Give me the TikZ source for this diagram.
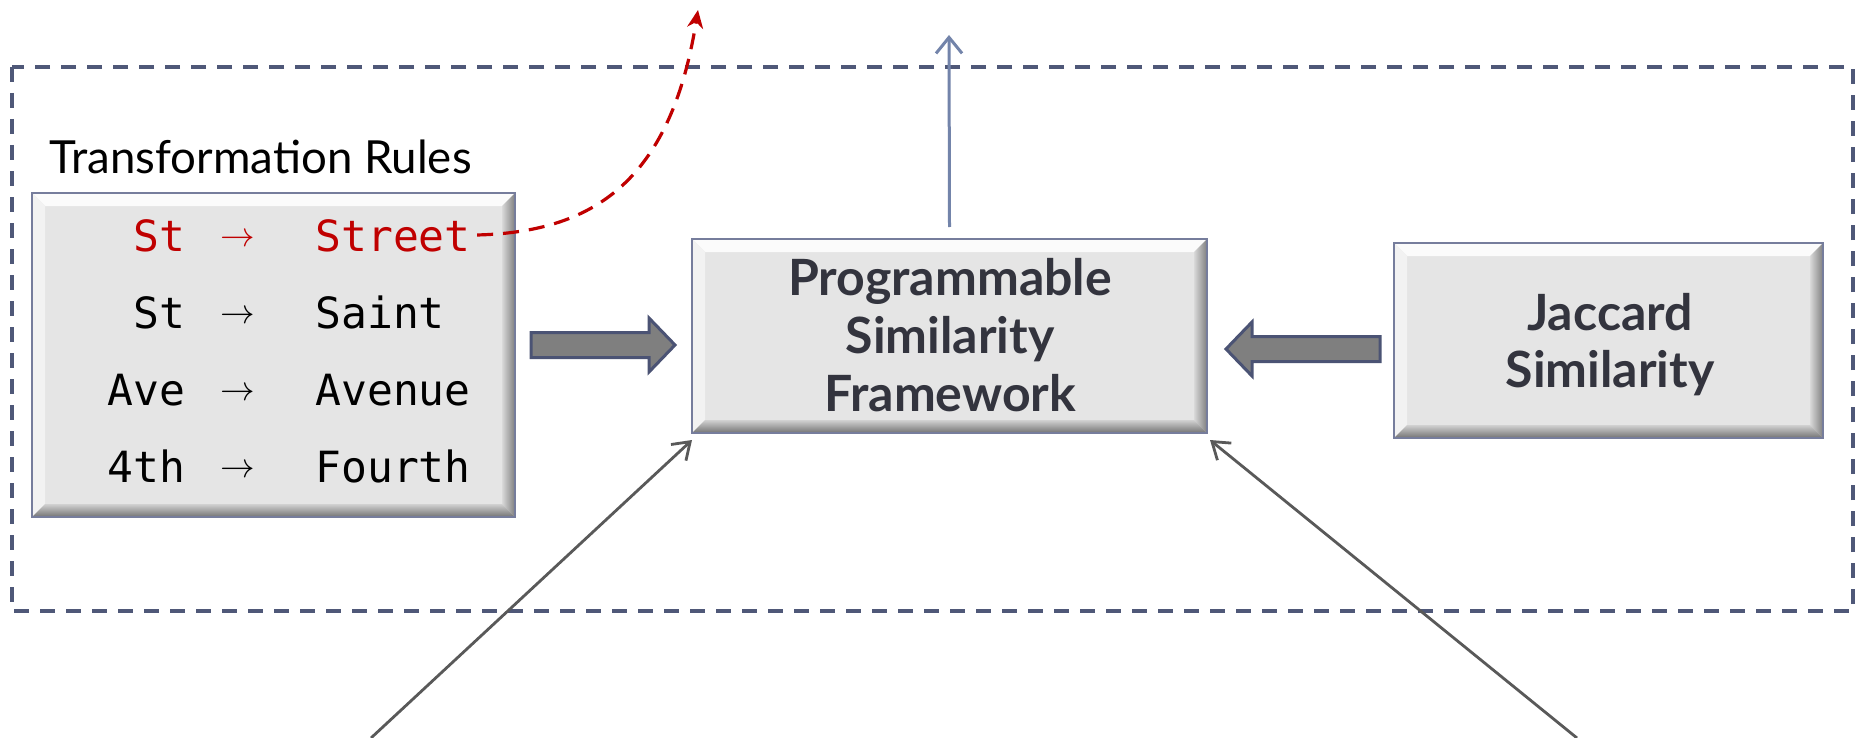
\documentclass[tikz,border=0pt]{standalone}
\usepackage{fontspec}
\setmainfont{Lato}
\newfontfamily\monofont{DejaVu Sans Mono}
\usetikzlibrary{arrows.meta,fit,calc,backgrounds}
\definecolor{boxfill}{HTML}{E5E5E5}
\definecolor{boxline}{HTML}{767D9C}
\definecolor{frameblue}{HTML}{4F5878}
\definecolor{arrowfill}{HTML}{7F7F7F}
\definecolor{arrowline}{HTML}{4B5374}
\definecolor{upblue}{HTML}{7384AA}
\definecolor{linegray}{HTML}{595959}
\definecolor{rulered}{HTML}{C00000}
\definecolor{txtdark}{HTML}{33343E}
\begin{document}
\begin{tikzpicture}[x=0.5pt,y=-0.5pt,
  bevelbox/.style={fill=boxfill, draw=none, inner sep=0pt, outer sep=0pt},
  ruletext/.style={font=\monofont\fontsize{21.5}{24}\selectfont, inner sep=0pt},
  rulearrow/.style={font=\fontsize{18.5}{20}\selectfont, inner sep=0pt, anchor=base},
  boxtext/.style={font=\bfseries\fontsize{25}{29}\selectfont, text=txtdark, inner sep=0pt, anchor=base},
  blockarrow/.style={draw=arrowline, fill=arrowfill, line width=1.5pt, line join=miter},
  framebox/.style={draw=frameblue, line width=1.75pt, dash pattern=on 7.5pt off 5.5pt},
  reddash/.style={draw=rulered, line width=1.6pt, dash pattern=on 8pt off 5pt, -{Stealth[length=9pt,width=8pt]}},
  upline/.style={draw=upblue, line width=1.5pt, -{Straight Barb[length=8pt,width=13pt,line width=1.5pt]}},
  grayline/.style={draw=linegray, line width=1.4pt, -{Straight Barb[length=8pt,width=11pt,line width=1.4pt]}}
]
\useasboundingbox (0,0) rectangle (1858,738);
\fill[white] (0,0) rectangle (1858,738);

% dashed frame
\draw[framebox] (12,67) rectangle (1853,611);

% title
\node[font=\fontsize{22.8}{26}\selectfont, inner sep=0pt, anchor=base west] (title) at (49,173) {Transformation Rules};

% boxes
\node[bevelbox, fit={(32,193)(515,517)}] (rules) {};
\node[bevelbox, fit={(692,239)(1207,433)}] (prog) {};
\node[bevelbox, fit={(1394,243)(1823,438)}] (jac) {};

% shadows
\begin{scope}[on background layer]
\foreach \bx in {rules,prog,jac}{
  \foreach \s in {1,2,3,4,5}{
    \fill[black, opacity=0.06]
      ([xshift=-\s*0.7pt, yshift=-1pt-\s*1.1pt]\bx.south west) rectangle
      ([xshift=\s*0.7pt, yshift=-\s*0.3pt]\bx.north east);
  }
}
\end{scope}

% bevels
\foreach \bx in {rules,prog,jac}{
  \fill[white!97!gray] (\bx.north west) -- (\bx.north east)
     -- ([xshift=-6.5pt,yshift=-6.5pt]\bx.north east) -- ([xshift=6.5pt,yshift=-6.5pt]\bx.north west) -- cycle;
  \fill[white!90!gray] (\bx.north west) -- (\bx.south west)
     -- ([xshift=6.5pt,yshift=6.5pt]\bx.south west) -- ([xshift=6.5pt,yshift=-6.5pt]\bx.north west) -- cycle;
  \shade[left color=black!15, right color=black!50] (\bx.north east) -- (\bx.south east)
     -- ([xshift=-6.5pt,yshift=6.5pt]\bx.south east) -- ([xshift=-6.5pt,yshift=-6.5pt]\bx.north east) -- cycle;
  \shade[top color=black!18, bottom color=black!55] (\bx.south west) -- (\bx.south east)
     -- ([xshift=-6.5pt,yshift=6.5pt]\bx.south east) -- ([xshift=6.5pt,yshift=6.5pt]\bx.south west) -- cycle;
  \draw[boxline, line width=1pt] (\bx.north west) rectangle (\bx.south east);
}

% rules text
\node[ruletext, text=rulered, anchor=base east] (r1l) at (186,251) {St};
\node[rulearrow, text=rulered] (r1a) at (238,246) {$\rightarrow$};
\node[ruletext, text=rulered, anchor=base west] (r1r) at (315,251) {Street};
\node[ruletext, anchor=base east] (r2l) at (186,328) {St};
\node[rulearrow] (r2a) at (238,323) {$\rightarrow$};
\node[ruletext, anchor=base west] (r2r) at (315,328) {Saint};
\node[ruletext, anchor=base east] (r3l) at (186,405) {Ave};
\node[rulearrow] (r3a) at (238,400) {$\rightarrow$};
\node[ruletext, anchor=base west] (r3r) at (315,405) {Avenue};
\node[ruletext, anchor=base east] (r4l) at (186,482) {4th};
\node[rulearrow] (r4a) at (238,477) {$\rightarrow$};
\node[ruletext, anchor=base west] (r4r) at (315,482) {Fourth};

% box texts
\node[boxtext] (p1) at (950,295) {Programmable};
\node[boxtext] (p2) at (950,353) {Similarity};
\node[boxtext] (p3) at (950,411) {Framework};
\node[boxtext] (j1) at (1610,330) {Jaccard};
\node[boxtext] (j2) at (1610,387) {Similarity};

% block arrows (rules -> prog, jac -> prog)
\coordinate (ba1) at (531,345);
\draw[blockarrow] (ba1) ++(0,-12.5) -- ++(118,0) -- ++(0,-14.5) -- ++(26,27) -- ++(-26,27) -- ++(0,-14.5) -- ++(-118,0) -- cycle;
\coordinate (ba2) at (1380,349);
\draw[blockarrow] (ba2) ++(0,-12.5) -- ++(-128,0) -- ++(0,-14.5) -- ++(-26,27) -- ++(26,27) -- ++(0,-14.5) -- ++(128,0) -- cycle;

% red dashed curve
\coordinate (redstart) at ([xshift=3pt,yshift=8pt]r1r.base east);
\coordinate (redend) at (698,10);
\draw[reddash] (redstart) .. controls (590,232) and (670,185) .. (redend);

% up arrow
\coordinate (upend) at (949,35);
\draw[upline] ([yshift=6pt]prog.north) -- (upend);

% gray lines
\coordinate (lstart) at (371,738);
\coordinate (rstart) at (1577,738);
\draw[grayline] (lstart) -- ([yshift=-3.5pt]prog.south west);
\draw[grayline] (rstart) -- ([xshift=1.5pt,yshift=-3.5pt]prog.south east);
\end{tikzpicture}
\end{document}
